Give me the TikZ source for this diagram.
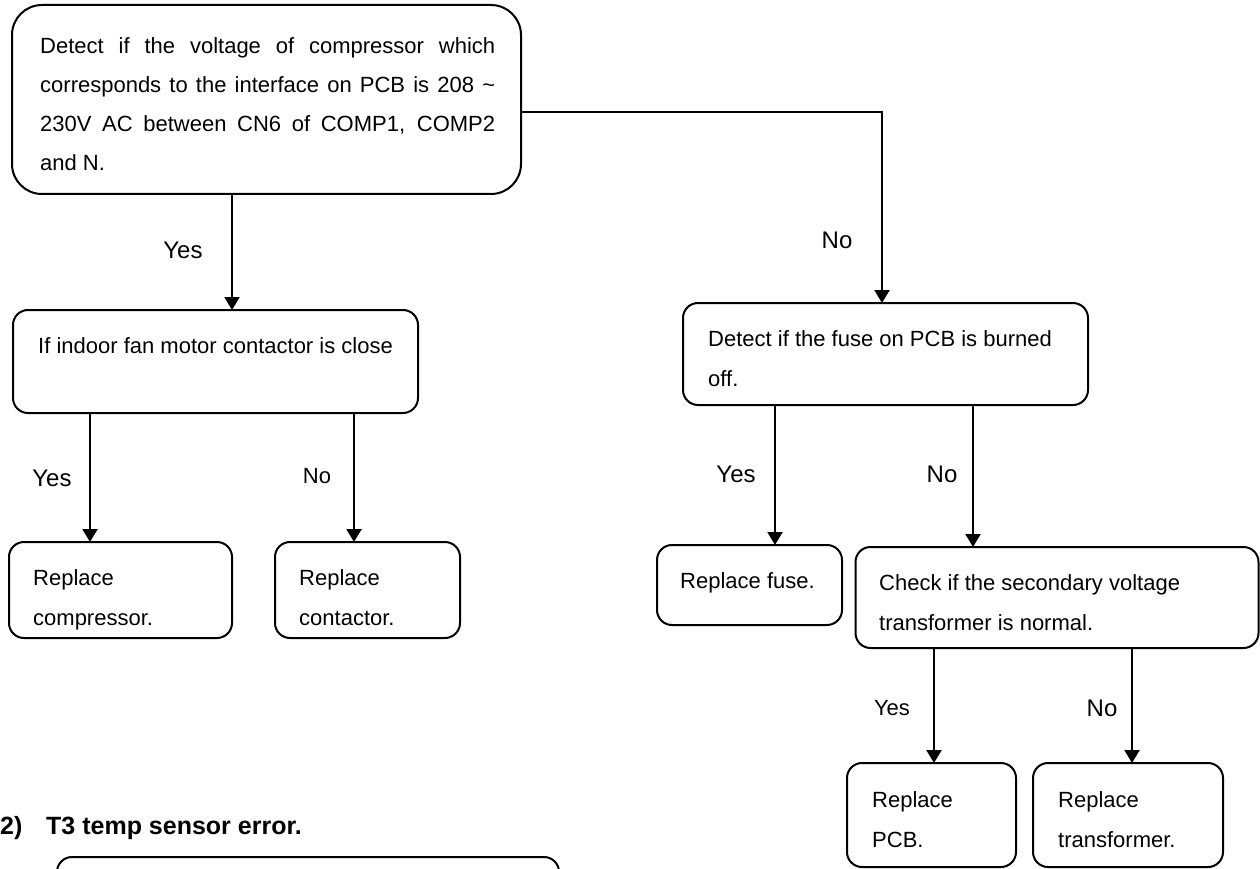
\documentclass[tikz,border=0pt]{standalone}
\usepackage{fontspec}
\setmainfont{Liberation Sans}
\usetikzlibrary{arrows.meta}
\begin{document}
\begin{tikzpicture}[x=1pt,y=-1pt,
  box/.style={draw, line width=2pt, rounded corners=15pt, inner sep=0pt, outer sep=0pt},
  bigbox/.style={box, rounded corners=30pt},
  txt/.style={font=\fontsize{22}{40}\selectfont, anchor=base west, align=left, inner sep=0pt},
  lbl/.style={font=\fontsize{24}{24}\selectfont, inner sep=0pt},
  slbl/.style={font=\fontsize{22}{22}\selectfont, inner sep=0pt},
  ttl/.style={font=\bfseries\fontsize{25}{25}\selectfont, anchor=base west, inner sep=0pt},
  arr/.style={line width=2.2pt, -{Triangle[width=15pt,length=13pt]}}]
\path[use as bounding box, clip] (0,0) rectangle (1260,869);

% boxes
\node[bigbox, minimum width=509pt, minimum height=189pt] (b1) at (266.5,99.5) {};
\node[box, minimum width=405pt, minimum height=103pt] (b2) at (215.5,361.5) {};
\node[box, minimum width=223pt, minimum height=96pt] (b3) at (120.5,590) {};
\node[box, minimum width=185pt, minimum height=96pt] (b4) at (367.5,590) {};
\node[box, minimum width=405pt, minimum height=102pt] (b5) at (885.5,354) {};
\node[box, minimum width=185pt, minimum height=80pt] (b6) at (749.5,585) {};
\node[box, minimum width=403pt, minimum height=101pt] (b7) at (1057,597.5) {};
\node[box, minimum width=169pt, minimum height=104pt] (b8) at (931.5,815) {};
\node[box, minimum width=190pt, minimum height=104pt] (b9) at (1128,815) {};
\node[box, minimum width=502pt, minimum height=80pt] (b10) at (308,897) {};

% texts (anchor base west = baseline of the last line)
\node[txt, font=\fontsize{22}{39.3}\selectfont] (t1) at (40,171)
  {\makebox[455pt][s]{Detect if the voltage of compressor which}\\
   \makebox[455pt][s]{corresponds to the interface on PCB is 208 \textasciitilde}\\
   \makebox[455pt][s]{230V AC between CN6 of COMP1, COMP2}\\
   and N.};
\node[txt] (t2) at (38,353) {If indoor fan motor contactor is close};
\node[txt] (t3) at (33,625) {Replace\\compressor.};
\node[txt] (t4) at (299,625) {Replace\\contactor.};
\node[txt] (t5) at (708,386) {Detect if the fuse on PCB is burned\\off.};
\node[txt] (t6) at (680,588) {Replace fuse.};
\node[txt] (t7) at (879,630) {Check if the secondary voltage\\transformer is normal.};
\node[txt] (t8) at (872,847) {Replace\\PCB.};
\node[txt] (t9) at (1058,847) {Replace\\transformer.};

% title
\node[ttl] (h1) at (0,834) {2)};
\node[ttl] (h2) at (46,834) {T3 temp sensor error.};

% labels
\node[lbl] (l1) at (183,250) {Yes};
\node[lbl] (l2) at (837,240) {No};
\node[lbl] (l3) at (52,478) {Yes};
\node[slbl] (l4) at (317,476) {No};
\node[lbl] (l5) at (736,474) {Yes};
\node[lbl] (l6) at (942,474) {No};
\node[slbl] (l7) at (892,708) {Yes};
\node[lbl] (l8) at (1102,708) {No};

% connectors
\coordinate (k1) at (232,0);
\coordinate (k2) at (882,112);
\coordinate (k3) at (90,0);
\coordinate (k4) at (354,0);
\coordinate (k5) at (775,0);
\coordinate (k6) at (973,0);
\coordinate (k7) at (934,0);
\coordinate (k8) at (1132,0);
\draw[arr] (b1.south -| k1) -- (b2.north -| k1);
\draw[arr] (b1.east |- k2) -| (b5.north -| k2);
\draw[arr] (b2.south -| k3) -- (b3.north -| k3);
\draw[arr] (b2.south -| k4) -- (b4.north -| k4);
\draw[arr] (b5.south -| k5) -- (b6.north -| k5);
\draw[arr] (b5.south -| k6) -- (b7.north -| k6);
\draw[arr] (b7.south -| k7) -- (b8.north -| k7);
\draw[arr] (b7.south -| k8) -- (b9.north -| k8);
\end{tikzpicture}
\end{document}
